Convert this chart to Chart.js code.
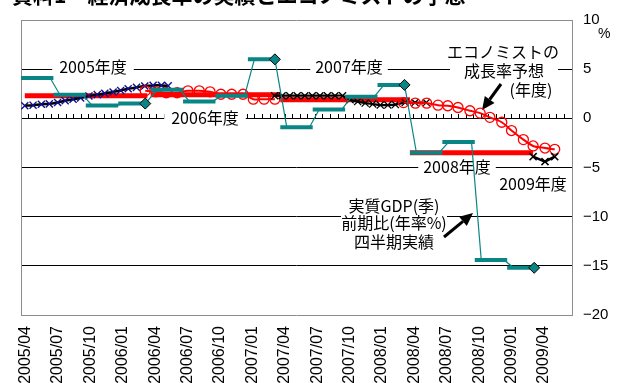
<!DOCTYPE html>
<html>
<head>
<meta charset="utf-8">
<script src="https://cdn.jsdelivr.net/npm/chart.js@4/dist/chart.umd.min.js"></script>
<style>
  html, body { margin: 0; padding: 0; background: #fff; }
  canvas { display: block; }
</style>
</head>
<body>
<canvas id="c" width="621" height="383"></canvas>
<script>
// ---- axis labels ----
const quarterLabels = ['2005/04','2005/07','2005/10','2006/01','2006/04','2006/07','2006/10','2007/01',
  '2007/04','2007/07','2007/10','2008/01','2008/04','2008/07','2008/10','2009/01','2009/04'];
const yTicks = [10, 5, 0, -5, -10, -15, -20];

// ---- quarterly real GDP, q/q annualised (%), Apr-Jun 2005 .. Jan-Mar 2009 ----
const gdpQuarterly = [4.1, 2.4, 1.3, 1.5, 2.9, 1.7, 2.3, 6.0, -0.9, 0.9, 2.2, 3.4, -3.5, -2.4, -14.4, -15.2];
const fyEndQuarters = [3, 7, 11, 15];          // Jan-Mar quarters (marked with a diamond)

// ---- fiscal-year actual growth (%) and the months (from 2005/04) it spans ----
const fyActual = [2.3, 2.4, 1.9, -3.5];
const fyFrom   = [0.35, 12, 24, 36];
const fyTo     = [11.7, 24, 36, 47.4];

// ---- economists' fiscal-year forecasts ----
// FY2005 (survey slots on the fine axis)
const fc2005Pos = [0.5, 1.6, 2.7, 3.75, 4.85, 5.85, 6.9, 7.9, 9.0, 10.1, 11.1, 12.2, 13.2, 14.2, 15.3, 16.4, 17.5, 18.6, 19.5];
const fc2005Val = [1.28, 1.34, 1.44, 1.47, 1.61, 1.78, 1.94, 2.08, 2.28, 2.41, 2.54, 2.68, 2.84, 3.0, 3.15, 3.29, 3.35, 3.35, 3.3];
// FY2006 (months)
const fc2006Pos = [11.5, 12.5, 13.45, 14.45, 15.45, 16.5, 17.5, 18.5, 19.5, 20.55, 21.5, 22.5, 23.5];
const fc2006Val = [2.8, 2.7, 2.6, 2.6, 2.8, 2.8, 2.7, 2.45, 2.45, 2.45, 1.95, 1.95, 1.95];
// FY2007 (survey slots on the fine axis)
const fc2007Pos = [33.6, 34.6, 35.6, 36.6, 37.6, 38.6, 39.6, 40.6, 41.6, 42.6, 43.6, 44.6, 45.6, 46.6, 47.6, 48.6, 49.6, 50.9, 52.2, 53.7];
const fc2007Val = [2.3, 2.3, 2.3, 2.3, 2.3, 2.3, 2.3, 2.3, 2.3, 2.3, 1.9, 1.7, 1.55, 1.45, 1.35, 1.35, 1.4, 1.6, 1.6, 1.6];
// FY2008 (months)
const fc2008Pos = [35.4, 36.5, 37.55, 38.6, 39.5, 40.45, 41.55, 42.5, 43.4, 44.5, 45.4, 46.5, 47.4, 48.5, 49.4];
const fc2008Val = [1.6, 1.54, 1.54, 1.34, 1.28, 1.1, 0.77, 0.53, 0.1, -0.4, -1.24, -2.16, -2.81, -3.02, -3.15];
// FY2009 (months)
const fc2009Pos = [47.4, 48.5, 49.4];
const fc2009Val = [-3.9, -4.4, -3.9];

const FINE_SLOTS = 73;
const TEAL = '#0a8585';
const JP = '"Noto Sans CJK JP", "Noto Sans", sans-serif';
const LAT = '"Liberation Sans", Arial, sans-serif';

// ---- derived point lists ----
const pts = (xs, ys) => xs.map((x, i) => ({ x, y: ys[i] }));

const tealBars = [];
const tealLink = [];
gdpQuarterly.forEach((v, i) => {
  const start = i * 3;
  const isFyEnd = fyEndQuarters.includes(i);
  const end = isFyEnd ? start + 2.5 : start + 3;
  tealBars.push({ x: start, y: v }, { x: end, y: v }, { x: end, y: null });
  tealLink.push({ x: i === 0 ? start : start + 0.6, y: v }, { x: isFyEnd ? end : start + 2.7, y: v });
});
const tealDiamonds = fyEndQuarters.map(i => ({ x: i * 3 + 2.5, y: gdpQuarterly[i] }));

const fyBars = [];
fyActual.forEach((v, i) => {
  fyBars.push({ x: fyFrom[i], y: v }, { x: fyTo[i], y: v }, { x: fyTo[i], y: null });
});

// ---- annotations drawn on the plot ----
function boxedText(ctx, text, cx, cy, padX) {
  ctx.font = '16px ' + JP;
  const w = ctx.measureText(text).width;
  ctx.fillStyle = '#fff';
  ctx.fillRect(cx - w / 2 - padX, cy - 8, w + padX * 2, 16);
  ctx.fillStyle = '#000';
  ctx.textAlign = 'center';
  ctx.textBaseline = 'middle';
  ctx.fillText(text, cx, cy + 1);
}
function arrow(ctx, x1, y1, x2, y2) {
  const a = Math.atan2(y2 - y1, x2 - x1);
  const hl = 13, hw = 6;
  const bx = x2 - hl * Math.cos(a), by = y2 - hl * Math.sin(a);
  ctx.strokeStyle = '#000';
  ctx.lineWidth = 3;
  ctx.beginPath(); ctx.moveTo(x1, y1); ctx.lineTo(bx, by); ctx.stroke();
  ctx.fillStyle = '#000';
  ctx.beginPath();
  ctx.moveTo(x2, y2);
  ctx.lineTo(bx + hw * Math.sin(a), by - hw * Math.cos(a));
  ctx.lineTo(bx - hw * Math.sin(a), by + hw * Math.cos(a));
  ctx.closePath(); ctx.fill();
}

const decorations = {
  id: 'decorations',
  beforeDatasetsDraw(chart) {
    const { ctx, chartArea: ca } = chart;
    ctx.save();
    // left frame edge
    ctx.strokeStyle = '#8c8c8c';
    ctx.lineWidth = 1;
    ctx.beginPath(); ctx.moveTo(ca.left + 0.5, ca.top); ctx.lineTo(ca.left + 0.5, ca.bottom); ctx.stroke();

    // fiscal-year captions sitting on the grid lines
    boxedText(ctx, '2005年度', 93, 66, 7);
    boxedText(ctx, '2006年度', 205, 116.5, 7);
    boxedText(ctx, '2007年度', 349, 66, 5);
    boxedText(ctx, '2008年度', 457, 166, 5);
    boxedText(ctx, '2009年度', 533, 183, 2);

    // economists' forecast caption
    ctx.fillStyle = '#fff';
    ctx.fillRect(450, 42, 108, 56);
    ctx.fillStyle = '#000';
    ctx.font = '16px ' + JP;
    ctx.textAlign = 'center';
    ctx.textBaseline = 'middle';
    ctx.fillText('エコノミストの', 503, 52);
    ctx.fillText('成長率予想', 504, 71);
    ctx.fillText('(年度)', 531, 89.5);
    arrow(ctx, 501, 84, 482, 110);

    // quarterly actual caption
    ctx.fillStyle = '#fff';
    ctx.fillRect(341, 196, 106, 56);
    ctx.fillStyle = '#000';
    ctx.fillText('実質GDP(季)', 394, 205.5);
    ctx.fillText('前期比(年率%)', 394, 223);
    ctx.fillText('四半期実績', 394, 242);
    arrow(ctx, 444, 237, 473, 213);
    ctx.restore();
  },
  afterDraw(chart) {
    const { ctx } = chart;
    ctx.save();
    ctx.fillStyle = '#000';
    ctx.font = 'bold 21px ' + JP;
    ctx.textAlign = 'left';
    ctx.textBaseline = 'alphabetic';
    ctx.fillText('資料1　経済成長率の実績とエコノミストの予想', 12, 3);
    ctx.font = '14px ' + LAT;
    ctx.fillText('%', 598, 38);
    ctx.restore();
  }
};

new Chart(document.getElementById('c'), {
  type: 'line',
  data: {
    datasets: [
      { // fiscal-year-end quarter markers
        data: tealDiamonds, xAxisID: 'x', showLine: false,
        pointStyle: 'rectRot', pointRadius: 5.5, pointBackgroundColor: TEAL,
        pointBorderColor: '#000', pointBorderWidth: 1
      },
      { // quarterly level bars
        data: tealBars, xAxisID: 'x', borderColor: TEAL, borderWidth: 4,
        borderCapStyle: 'butt', pointRadius: 0, spanGaps: false
      },
      { // joins between quarters
        data: tealLink, xAxisID: 'x', borderColor: TEAL, borderWidth: 1.2, pointRadius: 0
      },
      { // FY2009 forecast
        data: pts(fc2009Pos, fc2009Val), xAxisID: 'x', borderColor: '#000', borderWidth: 2.5,
        pointStyle: 'crossRot', pointRadius: 5, pointBorderColor: '#000', pointBorderWidth: 1.5
      },
      { // FY2008 forecast
        data: pts(fc2008Pos, fc2008Val), xAxisID: 'x', borderColor: '#ff0000', borderWidth: 2, tension: 0.3,
        pointStyle: 'circle', pointRadius: 5, pointBorderColor: '#ff0000', pointBorderWidth: 1.3,
        pointBackgroundColor: 'rgba(0,0,0,0)'
      },
      { // FY2007 forecast
        data: pts(fc2007Pos, fc2007Val), xAxisID: 'xf', borderColor: '#000', borderWidth: 2.2, tension: 0.3,
        pointStyle: 'crossRot', pointRadius: 5, pointBorderColor: '#000', pointBorderWidth: 1.3
      },
      { // FY2006 forecast
        data: pts(fc2006Pos, fc2006Val), xAxisID: 'x', borderColor: '#ff0000', borderWidth: 2, tension: 0.3,
        pointStyle: 'circle', pointRadius: 5, pointBorderColor: '#ff0000', pointBorderWidth: 1.3,
        pointBackgroundColor: 'rgba(0,0,0,0)'
      },
      { // FY2005 forecast
        data: pts(fc2005Pos, fc2005Val), xAxisID: 'xf', borderColor: '#000', borderWidth: 2.5, tension: 0.4,
        pointStyle: 'crossRot', pointRadius: 5, pointBorderColor: '#10108a', pointBorderWidth: 1.4
      },
      { // fiscal-year actual growth
        data: fyBars, xAxisID: 'x', borderColor: '#ff0000', borderWidth: 5,
        borderCapStyle: 'butt', pointRadius: 0, spanGaps: false
      }
    ]
  },
  options: {
    responsive: false,
    animation: false,
    devicePixelRatio: 1,
    layout: { padding: { left: 21, top: 16, right: 0, bottom: 0 } },
    plugins: { legend: { display: false }, tooltip: { enabled: false } },
    scales: {
      x: {
        type: 'linear', position: 'bottom', min: 0, max: 51,
        afterFit(s) { s.height = 68; },
        afterBuildTicks(s) { s.ticks = quarterLabels.map((_, i) => ({ value: i * 3 })); },
        grid: { display: false, drawTicks: false },
        border: { display: false },
        ticks: {
          autoSkip: false, minRotation: 90, maxRotation: 90, padding: 11, labelOffset: 4.5,
          color: '#000', font: { family: LAT, size: 16 },
          callback: (v, i) => quarterLabels[i]
        }
      },
      xf: {
        type: 'linear', position: { y: 0 }, min: 0, max: FINE_SLOTS,
        afterBuildTicks(s) { s.ticks = Array.from({ length: FINE_SLOTS + 1 }, (_, k) => ({ value: k })); },
        grid: { drawOnChartArea: false, drawTicks: true, tickLength: -5, color: '#000', lineWidth: 1 },
        border: { display: true, color: '#000', width: 1 },
        ticks: { display: false }
      },
      y: {
        position: 'right', min: -20, max: 10,
        afterFit(s) { s.width = 49; },
        afterBuildTicks(s) { s.ticks = yTicks.map(v => ({ value: v })); },
        grid: {
          drawTicks: false,
          color: c => (c.tick && (c.tick.value === 10 || c.tick.value === -20)) ? '#8c8c8c' : '#000',
          lineWidth: 1
        },
        border: { display: true, color: '#8c8c8c', width: 1 },
        ticks: {
          padding: 11, color: '#000', font: { family: LAT, size: 15 },
          callback: v => (v < 0 ? '\u2212' + Math.abs(v) : String(v))
        }
      }
    }
  },
  plugins: [decorations]
});
</script>
</body>
</html>
